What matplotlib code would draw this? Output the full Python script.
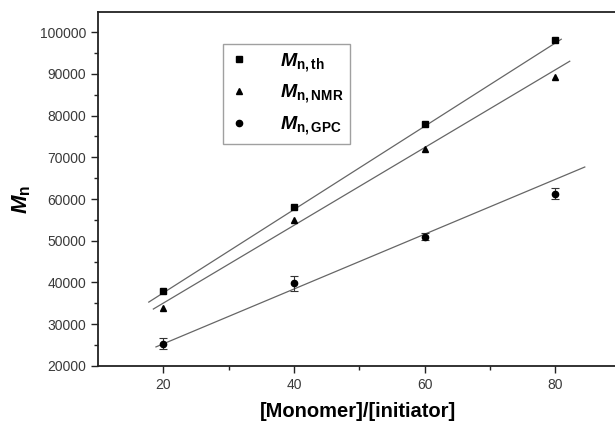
import numpy as np
import matplotlib
matplotlib.use("Agg")
import matplotlib.pyplot as plt
from matplotlib.lines import Line2D

plt.rcParams['font.family'] = ['Liberation Sans', 'DejaVu Sans']
plt.rcParams['mathtext.fontset'] = 'custom'
plt.rcParams['mathtext.rm'] = 'Liberation Sans:bold'
plt.rcParams['mathtext.bf'] = 'Liberation Sans:bold'
plt.rcParams['mathtext.it'] = 'Liberation Sans:italic:bold'

# data
ratio = [20, 40, 60, 80]
mn_th = [38000, 58000, 78000, 98000]
mn_nmr = [34000, 55000, 72000, 89300]
mn_gpc = [25300, 39800, 51000, 61300]
mn_gpc_err = [1300, 1800, 900, 1400]

# fitted lines as drawn in the reference: (slope, intercept, x start, x end)
fit_th = (998, 17540, 17.8, 80.9)
fit_nmr = (932, 16400, 18.5, 82.2)
fit_gpc = (657, 12150, 18.9, 84.5)

labels = [r'$\mathit{M}_{\mathrm{n,th}}$',
          r'$\mathit{M}_{\mathrm{n,NMR}}$',
          r'$\mathit{M}_{\mathrm{n,GPC}}$']

fig = plt.figure(figsize=(6.15, 4.23), dpi=100)
ax = fig.add_axes([0.159, 0.1348, 0.845, 0.8368])

x = np.array(ratio, dtype=float)
line_col = '#666666'

for k, b, x0, x1 in [fit_th, fit_nmr, fit_gpc]:
    xx = np.array([x0, x1])
    ax.plot(xx, k * xx + b, color=line_col, lw=0.9, zorder=1)

ax.plot(x, mn_th, 's', color='black', ms=4, ls='none', zorder=3)
ax.plot(x, mn_nmr, '^', color='black', ms=4.5, ls='none', zorder=3)
ax.errorbar(x, mn_gpc, yerr=mn_gpc_err, fmt='o', color='black', ms=4.5,
            ecolor='#333333', elinewidth=0.8, capsize=3, capthick=0.8, zorder=3)

ax.set_xlim(10, 89.5)
ax.set_ylim(20000, 104800)
ax.set_xticks([20, 40, 60, 80])
ax.set_xticks([30, 50, 70], minor=True)
ax.set_yticks(np.arange(20000, 100001, 10000))
ax.set_yticks(np.arange(25000, 100001, 10000), minor=True)
ax.tick_params(axis='both', which='major', direction='out', length=5, width=1,
               labelsize=10, colors='#222222', labelcolor='#3a3a3a')
ax.tick_params(axis='both', which='minor', direction='out', length=3, width=1,
               colors='#222222')
ax.spines['right'].set_visible(False)
for s in ['left', 'bottom', 'top']:
    ax.spines[s].set_linewidth(1.3)
    ax.spines[s].set_color('#222222')

ax.set_xlabel('[Monomer]/[initiator]', fontsize=14.5, fontweight='bold', labelpad=7)
ax.set_ylabel(r'$\mathit{M}_{\mathrm{n}}$', fontsize=16)
ax.yaxis.set_label_coords(-0.125, 0.47)

handles = [Line2D([], [], marker=m, color='black', ls='none', ms=s)
           for m, s in [('s', 4), ('^', 4.5), ('o', 4.5)]]
leg = ax.legend(handles, labels, loc='upper left', bbox_to_anchor=(0.240, 0.91),
                fontsize=14, frameon=True, fancybox=False, handlelength=1.0,
                handletextpad=1.6, borderpad=0.35, labelspacing=0.45,
                borderaxespad=0)
leg.get_frame().set_edgecolor('#888888')
leg.get_frame().set_linewidth(1.0)

fig.savefig('out.png', dpi=100)
